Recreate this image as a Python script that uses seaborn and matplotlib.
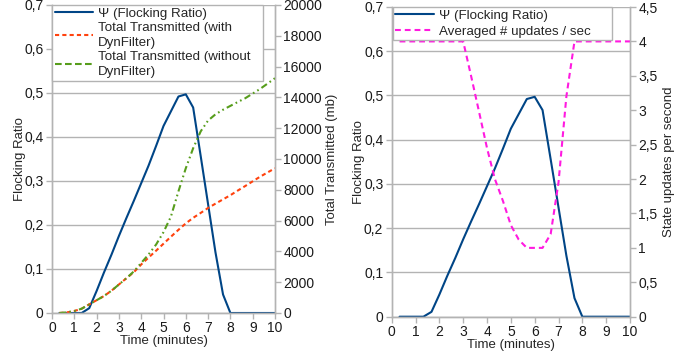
import matplotlib
matplotlib.use('Agg')
import matplotlib.pyplot as plt
import seaborn as sns
import pandas as pd
from matplotlib.ticker import FuncFormatter, MultipleLocator
from matplotlib.lines import Line2D

# ---- data ----
time_min = [0.33, 0.67, 1.00, 1.33, 1.67, 2.00, 2.33, 2.67, 3.00, 3.33,
            3.67, 4.00, 4.33, 4.67, 5.00, 5.33, 5.67, 6.00, 6.33, 6.67,
            7.00, 7.33, 7.67, 8.00, 8.33, 8.67, 9.00, 9.33, 9.67, 10.00]
psi = [0, 0, 0, 0, 0.011, 0.050, 0.092, 0.133, 0.175, 0.215,
       0.255, 0.295, 0.335, 0.380, 0.425, 0.458, 0.492, 0.497, 0.467, 0.356,
       0.247, 0.138, 0.042, 0, 0, 0, 0, 0, 0, 0]
tx_with = [0, 40, 130, 280, 560, 830, 1100, 1450, 1850, 2250,
           2650, 3150, 3600, 4050, 4500, 4950, 5400, 5820, 6180, 6500,
           6820, 7100, 7380, 7650, 7950, 8250, 8550, 8850, 9130, 9400]
tx_without = [0, 40, 130, 280, 560, 830, 1100, 1450, 1850, 2250,
              2700, 3250, 3800, 4450, 5250, 6250, 7900, 9400, 10700, 11800,
              12500, 12900, 13200, 13450, 13700, 13950, 14250, 14550, 14900, 15250]
updates = [4, 4, 4, 4, 4, 4, 4, 4, 4, 3.5,
           2.97, 2.45, 2.0, 1.68, 1.33, 1.12, 1.0, 1.0, 1.0, 1.2,
           1.95, 3.2, 4.0, 4, 4, 4, 4, 4, 4, 4]

lbl_psi = "Ψ (Flocking Ratio)"
lbl_with = "Total Transmitted (with\nDynFilter)"
lbl_without = "Total Transmitted (without\nDynFilter)"
lbl_upd = "Averaged # updates / sec"

df = pd.DataFrame({"t": time_min, "psi": psi, "with": tx_with,
                   "without": tx_without, "upd": updates})

sns.set_theme(style="white")
plt.rcParams['font.family'] = ['Liberation Sans', 'DejaVu Sans']

BLUE = "#004586"
ORANGE = "#ff420e"
GREEN = "#579d1c"
MAGENTA = "#ff1ae0"
GRID = "#b3b3b3"
FS_TICK = 10
FS_LAB = 9.5
FS_LEG = 9.6

def comma(v, pos):
    s = f"{v:g}"
    return s.replace(".", ",")

fig = plt.figure(figsize=(6.87, 3.63), dpi=100)

def style_axes(ax, ax2, ymax, ystep, y2max, y2step):
    ax.set_xlim(0, 10)
    ax.set_ylim(0, ymax)
    ax.xaxis.set_major_locator(MultipleLocator(1))
    ax.yaxis.set_major_locator(MultipleLocator(ystep))
    ax.yaxis.set_major_formatter(FuncFormatter(comma))
    ax2.set_ylim(0, y2max)
    ax2.yaxis.set_major_locator(MultipleLocator(y2step))
    ax2.yaxis.set_major_formatter(FuncFormatter(comma))
    ax.grid(axis='y', color=GRID, lw=1)
    ax.grid(axis='x', visible=False)
    ax2.grid(False)
    for a in (ax, ax2):
        for side, sp in a.spines.items():
            sp.set_color(GRID)
            sp.set_linewidth(1)
        a.spines['top'].set_visible(False)
        a.tick_params(direction='out', length=4, width=1, color=GRID,
                      labelsize=FS_TICK, labelcolor='#1a1a1a', pad=2)
    ax.tick_params(axis='x', bottom=True)
    ax.tick_params(axis='y', left=True)
    ax2.tick_params(axis='y', right=True)
    ax.set_xlabel("Time (minutes)", fontsize=FS_LAB, labelpad=0)

def make_legend(ax, handles, labels, anchor, spacing):
    leg = ax.legend(handles, labels, loc='upper left', bbox_to_anchor=anchor,
                    mode='expand', borderaxespad=0, fontsize=FS_LEG,
                    frameon=True, fancybox=False, framealpha=1,
                    edgecolor=GRID, handlelength=2.9, handletextpad=0.35,
                    labelspacing=spacing, borderpad=0.2)
    for t in leg.get_texts():
        t.set_linespacing(1.4)
    leg.get_frame().set_linewidth(1)
    return leg

# ---------------- left chart ----------------
axL = fig.add_axes([52/687, 50/363, 223/687, 308/363])
axL2 = axL.twinx()
sns.lineplot(data=df, x="t", y="psi", ax=axL, color=BLUE, lw=1.5, label=lbl_psi, legend=False)
sns.lineplot(data=df, x="t", y="with", ax=axL2, color=ORANGE, lw=1.5,
             ls=(0, (2, 1.5)), label=lbl_with, legend=False)
sns.lineplot(data=df, x="t", y="without", ax=axL2, color=GREEN, lw=1.5,
             ls=(0, (3.2, 1.6, 0.8, 1.6, 0.8, 1.6)), label=lbl_without, legend=False)
style_axes(axL, axL2, 0.7, 0.1, 20000, 2000)
axL.set_ylabel("Flocking Ratio", fontsize=FS_LAB, labelpad=-1)
axL2.set_ylabel("Total Transmitted (mb)", fontsize=FS_LAB, labelpad=3)

handles = [Line2D([], [], color=BLUE, lw=1.5),
           Line2D([], [], color=ORANGE, lw=1.5, ls=(0, (2, 1.5))),
           Line2D([], [], color=GREEN, lw=1.5, ls=(0, (3.2, 1.6, 3.2, 1.6)))]
make_legend(axL2, handles, [lbl_psi, lbl_with, lbl_without],
            (0, 0.0, 0.946, 1.0), 0.12)

# ---------------- right chart ----------------
axR = fig.add_axes([391.7/687, 46.3/363, 238.3/687, 309.7/363])
axR2 = axR.twinx()
sns.lineplot(data=df, x="t", y="psi", ax=axR, color=BLUE, lw=1.5, label=lbl_psi, legend=False)
sns.lineplot(data=df, x="t", y="upd", ax=axR2, color=MAGENTA, lw=1.5,
             ls=(0, (2.8, 1.9)), label=lbl_upd, legend=False)
style_axes(axR, axR2, 0.7, 0.1, 4.5, 0.5)
axR.set_ylabel("Flocking Ratio", fontsize=FS_LAB, labelpad=-1)
axR2.set_ylabel("State updates per second", fontsize=FS_LAB, labelpad=4)

handlesR = [Line2D([], [], color=BLUE, lw=1.5),
            Line2D([], [], color=MAGENTA, lw=1.5, ls=(0, (2.8, 1.9)))]
make_legend(axR2, handlesR, [lbl_psi, lbl_upd], (0.004, 0.0, 0.919, 1.0), 0.25)

fig.savefig("out.png", dpi=100)
